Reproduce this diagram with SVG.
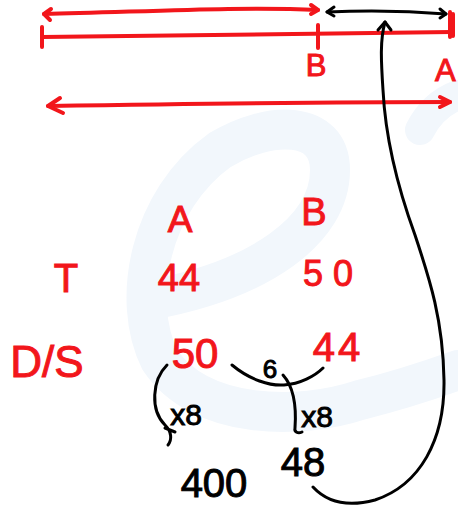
<svg xmlns="http://www.w3.org/2000/svg" width="458" height="512" viewBox="0 0 458 512">
<style>
.r{fill:none;stroke:#f2161b;stroke-width:4;stroke-linecap:round;stroke-linejoin:round}
.k{fill:none;stroke:#000;stroke-width:3;stroke-linecap:round;stroke-linejoin:round}
.tr{font-family:"Liberation Sans",Arial,sans-serif;fill:#f2161b;stroke:#f2161b;stroke-width:1}
.tk{font-family:"Liberation Sans",Arial,sans-serif;fill:#000;stroke:#000;stroke-width:1}
.wm{fill:none;stroke:#f2f7fc;stroke-linecap:round}
</style>
<rect width="458" height="512" fill="#fff"/>
<g id="watermark">
<path class="wm" stroke-width="40" d="M150 300 C260 280 330 230 330 170 C330 120 270 120 220 150 C150 200 130 300 160 360 C200 420 300 420 360 400 C400 390 430 380 458 370"/>
<path class="wm" stroke-width="30" d="M420 130 C430 110 445 100 458 95"/>
</g>
<g id="top-ruler">
<path class="r" d="M42 37 C150 36 300 33 452 32"/>
<path class="r" d="M42 27 L42 47"/>
<path class="r" d="M318 25 L318 48"/>
<path class="r" d="M450 12 L450 37 M453 14 L453 36"/>
</g>
<g id="arrow-red-top">
<path class="r" d="M44 14 C140 12 240 6 318 10"/>
<path class="r" d="M51 9 L44 14 L50 20"/>
<path class="r" d="M311 5 L318 10 L311 14"/>
</g>
<g id="arrow-black-top">
<path class="k" d="M327 12 C370 10 410 11 446 14"/>
<path class="k" d="M334 7 L327 12 L334 16"/>
<path class="k" d="M440 9 L446 14 L440 18"/>
</g>
<g id="arrow-red-bottom">
<path class="r" d="M48 106 C180 104 320 102 450 102"/>
<path class="r" d="M60 98 L48 106 L63 113"/>
<path class="r" d="M440 97 L450 102 L440 107"/>
</g>
<g id="label-B-top"><text class="tr" x="316" y="76" text-anchor="middle" style="font-size:31px">B</text></g>
<g id="label-A-top"><text class="tr" x="435" y="81" style="font-size:31px">A</text></g>
<g id="header-A"><text class="tr" x="180" y="232" text-anchor="middle" style="font-size:37px">A</text></g>
<g id="header-B"><text class="tr" x="314" y="225" text-anchor="middle" style="font-size:38px">B</text></g>
<g id="row-T"><text class="tr" x="66" y="292" text-anchor="middle" style="font-size:40px">T</text></g>
<g id="T-A"><text class="tr" x="179" y="291" text-anchor="middle" style="font-size:38px">44</text></g>
<g id="T-B"><text class="tr" x="328" y="286" text-anchor="middle" style="font-size:36px">5 0</text></g>
<g id="row-DS"><text class="tr" x="47" y="377" text-anchor="middle" style="font-size:44px">D/S</text></g>
<g id="DS-A"><text class="tr" x="195" y="368" text-anchor="middle" style="font-size:42px">50</text></g>
<g id="DS-B"><text class="tr" x="338" y="361" text-anchor="middle" style="font-size:40px;letter-spacing:3px">44</text></g>
<g id="label-6"><text class="tk" x="270" y="378" text-anchor="middle" style="font-size:26px">6</text></g>
<g id="label-x8-left"><text class="tk" x="186" y="425" text-anchor="middle" style="font-size:30px">x8</text></g>
<g id="label-x8-right"><text class="tk" x="317" y="427" text-anchor="middle" style="font-size:30px">x8</text></g>
<g id="label-48"><text class="tk" x="303" y="476" text-anchor="middle" style="font-size:40px">48</text></g>
<g id="label-400"><text class="tk" x="214" y="497" text-anchor="middle" style="font-size:40px">400</text></g>
<g id="connectors">
<path class="k" d="M232 365 C250 380 270 386 284 385 C300 384 315 376 323 368"/>
<path class="k" d="M283 375 C292 385 297 400 295 428 C294 432 298 434 302 432"/>
<path class="k" d="M167 365 C152 380 150 410 165 425 C172 432 172 440 168 445 M165 428 L175 432"/>
<path class="k" d="M313 487 C325 500 345 508 375 500 C420 485 445 440 444 380 C443 320 430 280 415 235 C395 180 385 130 383 90 C381 60 380 40 385 22"/>
<path class="k" d="M378 30 L385 22 L391 30"/>
</g>
</svg>
